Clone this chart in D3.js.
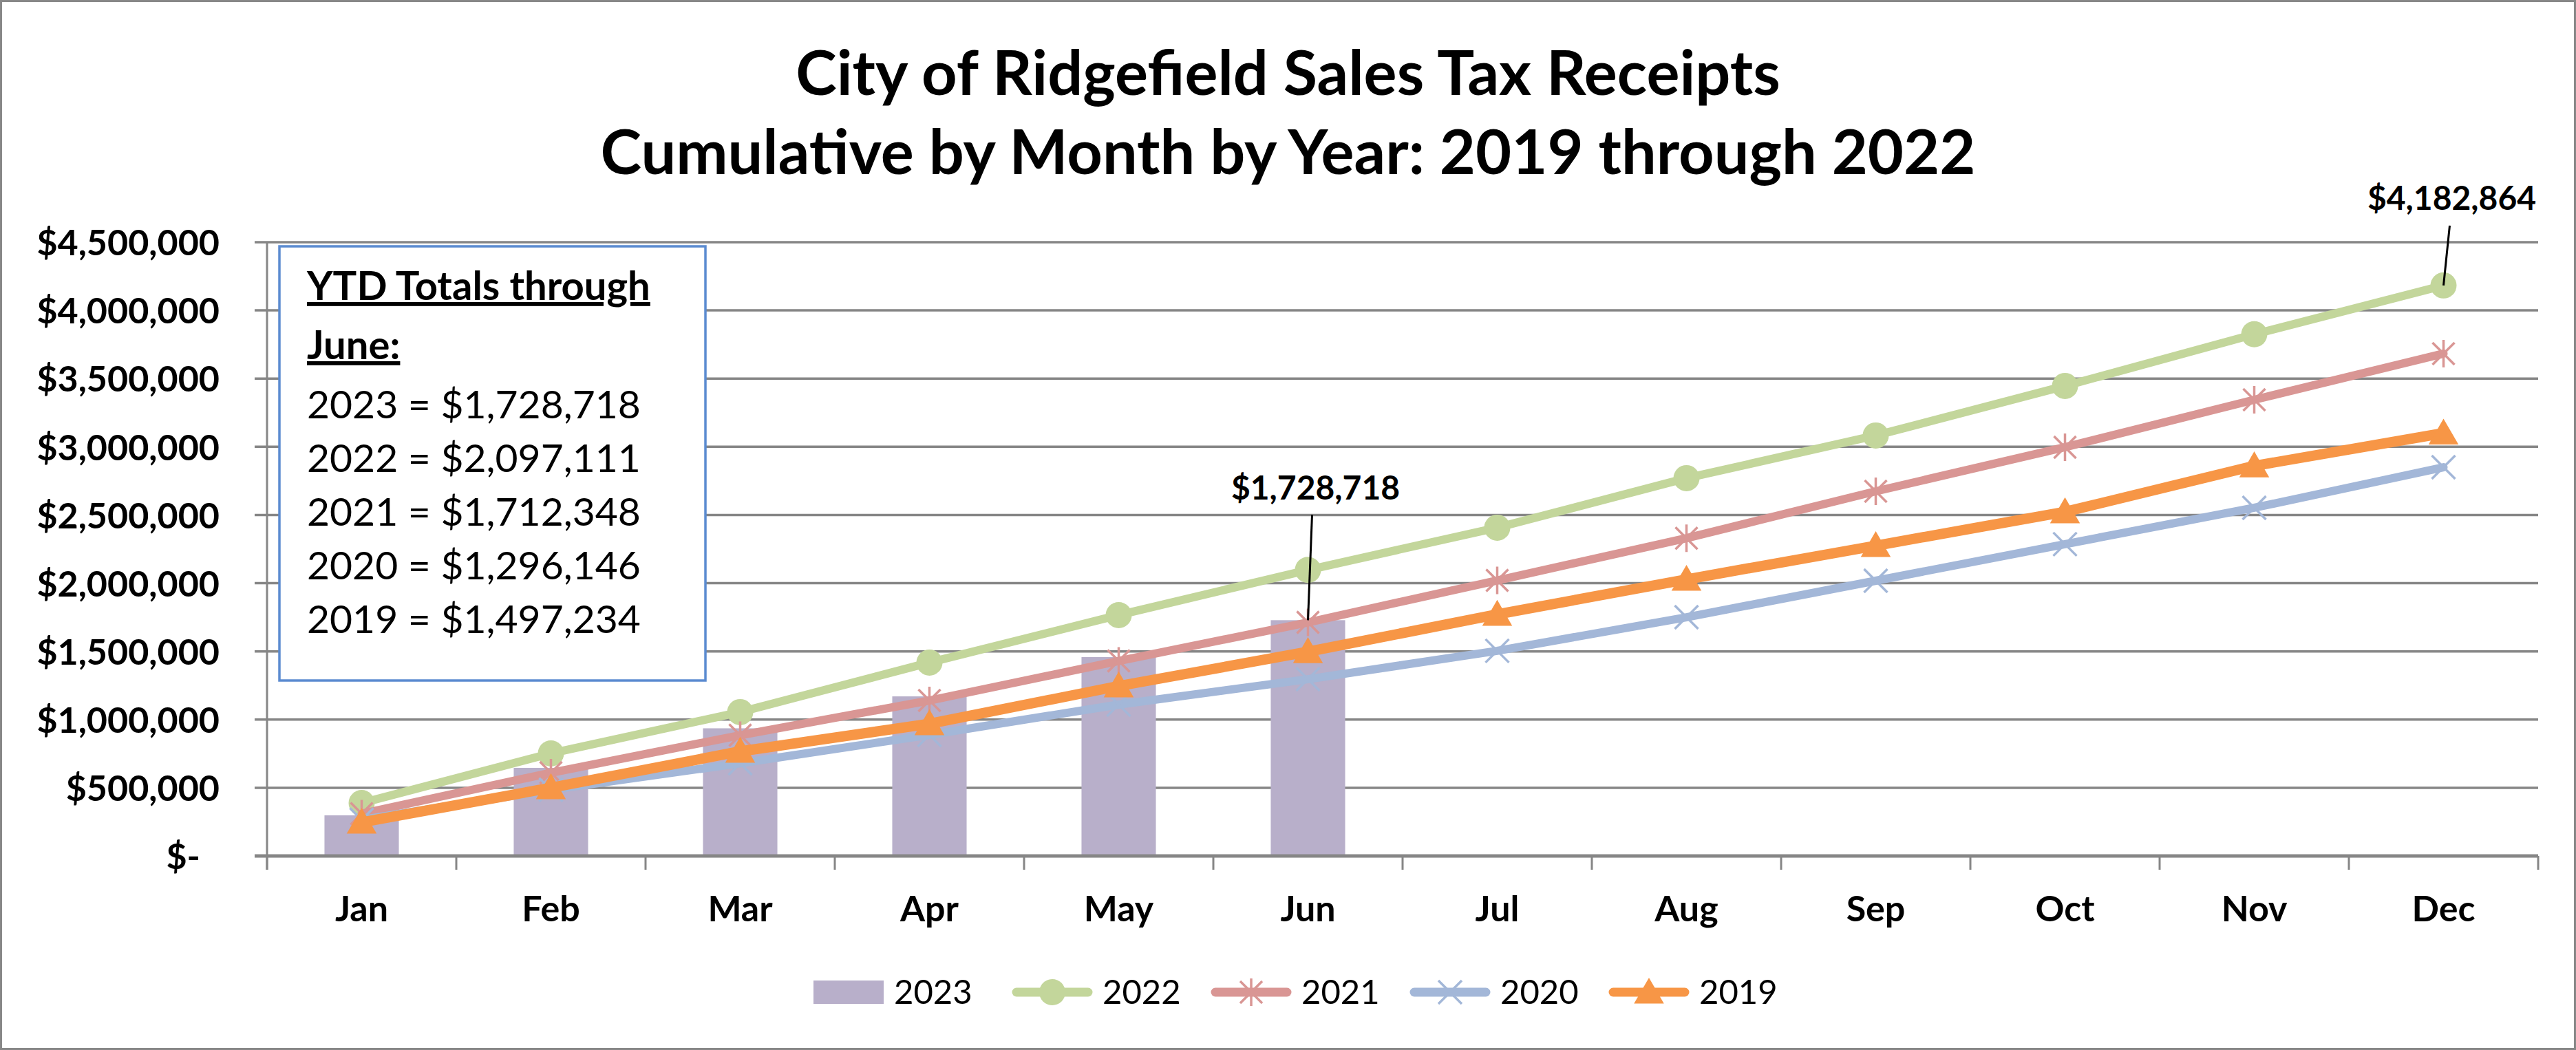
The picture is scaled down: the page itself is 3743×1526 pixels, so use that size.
<!DOCTYPE html>
<html>
<head>
<meta charset="utf-8">
<script src="https://cdn.jsdelivr.net/npm/d3@7"></script>
<style>
  body { margin: 0; background: #fff; }
  text { font-family: Lato, "Open Sans", sans-serif; fill: #000; }
</style>
</head>
<body>
<svg id="chart"></svg>
<script>
// cumulative receipts by month
const months = ["Jan", "Feb", "Mar", "Apr", "May", "Jun", "Jul", "Aug", "Sep", "Oct", "Nov", "Dec"];
const sales2023 = [298000, 646000, 936000, 1170000, 1458000, 1728718];
const sales2022 = [388000, 752000, 1055000, 1418000, 1766000, 2097111, 2407000, 2770000, 3083000, 3446000, 3825000, 4182864];
const sales2021 = [310000, 610000, 885000, 1140000, 1430000, 1712348, 2020000, 2330000, 2674000, 2997000, 3345000, 3683000];
const sales2020 = [265000, 485000, 680000, 888000, 1110000, 1296146, 1504000, 1750000, 2018000, 2286000, 2553000, 2850000];
const sales2019 = [247000, 500000, 767000, 969000, 1246000, 1497234, 1771000, 2028000, 2275000, 2523000, 2860000, 3100000];
const yTickValues = [0, 500000, 1000000, 1500000, 2000000, 2500000, 3000000, 3500000, 4000000, 4500000];
const titleLines = ["City of Ridgefield Sales Tax Receipts", "Cumulative by Month by Year: 2019 through 2022"];
const ytdHeading = ["YTD Totals through", "June:"];

// line series, in drawing order (2019 ends up on top)
const lineSeries = [
  {name: "2022", values: sales2022, color: "#C3D69B", width: 12, marker: "circle"},
  {name: "2021", values: sales2021, color: "#D99694", width: 12, marker: "star"},
  {name: "2020", values: sales2020, color: "#A3B7D8", width: 12, marker: "x"},
  {name: "2019", values: sales2019, color: "#F79646", width: 15, marker: "triangle"}
];
const barColor = "#B8AFCA";
const gridColor = "#868686";

const W = 3743, H = 1526;
const margin = {top: 352, right: 55, bottom: 282, left: 388};
const w = W - margin.left - margin.right,
      h = H - margin.top - margin.bottom;

const svg = d3.select("#chart").attr("width", W).attr("height", H);

// outer frame
svg.append("rect")
  .attr("x", 1.5).attr("y", 1.5)
  .attr("width", W - 3).attr("height", H - 3)
  .attr("fill", "#fff").attr("stroke", "#888").attr("stroke-width", 3);

// title
svg.selectAll(".title").data(titleLines).join("text")
  .attr("class", "title")
  .attr("x", W / 2)
  .attr("y", (d, i) => 138 + i * 115)
  .attr("text-anchor", "middle")
  .style("font-size", "90px").style("font-weight", "bold")
  .text(d => d);

const g = svg.append("g").attr("transform", `translate(${margin.left},${margin.top})`);

const x = d3.scaleBand().domain(months).range([0, w]).paddingInner(0.607).paddingOuter(0.3035);
const cx = m => x(m) + x.bandwidth() / 2;
const y = d3.scaleLinear().domain([0, 4500000]).range([h, 0]);

// gridlines (with the outward tick folded in)
g.selectAll(".grid").data(yTickValues.filter(v => v > 0)).join("line")
  .attr("class", "grid")
  .attr("x1", -18).attr("x2", w)
  .attr("y1", d => y(d)).attr("y2", d => y(d))
  .attr("stroke", gridColor).attr("stroke-width", 3.5);

// y labels
const fmt = d3.format("$,.0f");
const yAxis = g.append("g")
  .call(d3.axisLeft(y).tickValues(yTickValues).tickSize(0).tickPadding(69)
    .tickFormat(d => d === 0 ? "$-" : fmt(d)));
yAxis.select(".domain").remove();
yAxis.selectAll("text")
  .attr("dy", "0.36em")
  .attr("dx", d => d === 0 ? -28 : 0)
  .style("font-family", "Lato, sans-serif")
  .style("font-size", "52px").style("font-weight", "bold").attr("fill", "#000");

// bars for 2023
g.selectAll(".bar").data(sales2023).join("rect")
  .attr("class", "bar")
  .attr("x", (d, i) => x(months[i]))
  .attr("y", d => y(d))
  .attr("width", x.bandwidth())
  .attr("height", d => h - y(d))
  .attr("fill", barColor);

// axis lines and category ticks
g.append("line").attr("x1", 0).attr("x2", 0).attr("y1", y(4500000)).attr("y2", h + 20)
  .attr("stroke", gridColor).attr("stroke-width", 3);
g.selectAll(".xtick").data(d3.range(months.length + 1)).join("line")
  .attr("class", "xtick")
  .attr("x1", i => i * x.step()).attr("x2", i => i * x.step())
  .attr("y1", h).attr("y2", h + 20)
  .attr("stroke", gridColor).attr("stroke-width", 3);
g.append("line").attr("x1", -18).attr("x2", w).attr("y1", h).attr("y2", h)
  .attr("stroke", gridColor).attr("stroke-width", 5);

const xAxis = g.append("g").attr("transform", `translate(0,${h})`)
  .call(d3.axisBottom(x).tickSize(0).tickPadding(58));
xAxis.select(".domain").remove();
xAxis.selectAll("text")
  .attr("dy", "0.72em")
  .style("font-family", "Lato, sans-serif")
  .style("font-size", "52px").style("font-weight", "bold").attr("fill", "#000");

// marker shapes
const markerPath = {
  star: "M0,-20V20M-16,-16L16,16M-16,16L16,-16",
  x: "M-17,-17L17,17M-17,17L17,-17"
};
const triangle = d3.symbol(d3.symbolTriangle, 820)();

function drawMarker(sel, s) {
  if (s.marker === "circle") {
    sel.append("circle").attr("r", 19).attr("fill", s.color);
  } else if (s.marker === "triangle") {
    sel.append("path").attr("d", triangle).attr("transform", "translate(0,4)").attr("fill", s.color);
  } else {
    sel.append("path").attr("d", markerPath[s.marker]).attr("fill", "none")
      .attr("stroke", s.color).attr("stroke-width", 3.5);
  }
}

const line = d3.line().x((d, i) => cx(months[i])).y(d => y(d));

lineSeries.forEach(s => {
  const sg = g.append("g");
  sg.append("path").datum(s.values)
    .attr("d", line)
    .attr("fill", "none").attr("stroke", s.color)
    .attr("stroke-width", s.width).attr("stroke-linejoin", "round").attr("stroke-linecap", "round");
  sg.selectAll(".mk").data(s.values).join("g")
    .attr("class", "mk")
    .attr("transform", (d, i) => `translate(${cx(months[i])},${y(d)})`)
    .each(function() { drawMarker(d3.select(this), s); });
});

// callouts
const callouts = [
  {month: "Jun", value: sales2023[5], tx: 11, ty: -175, lx: 6, ly: -153},
  {month: "Dec", value: sales2022[11], tx: 12, ty: -110, lx: 9, ly: -87}
];
callouts.forEach(c => {
  const px = cx(c.month), py = y(c.value);
  g.append("line").attr("x1", px + c.lx).attr("y1", py + c.ly).attr("x2", px).attr("y2", py)
    .attr("stroke", "#000").attr("stroke-width", 3);
  g.append("text").attr("x", px + c.tx).attr("y", py + c.ty)
    .attr("text-anchor", "middle")
    .style("font-size", "48px").style("font-weight", "bold")
    .text(fmt(c.value));
});

// YTD text box
const ytdRows = [
  ["2023", sales2023[5]], ["2022", sales2022[5]], ["2021", sales2021[5]],
  ["2020", sales2020[5]], ["2019", sales2019[5]]
];
svg.append("rect")
  .attr("x", 406).attr("y", 358).attr("width", 619).attr("height", 631)
  .attr("fill", "#fff").attr("stroke", "#5B8BD0").attr("stroke-width", 3.5);
svg.selectAll(".ytdHead").data(ytdHeading).join("text")
  .attr("class", "ytdHead")
  .attr("x", 446).attr("y", (d, i) => 436 + i * 86)
  .style("font-size", "58px").style("font-weight", "bold")
  .style("text-decoration", "underline")
  .text(d => d);
svg.selectAll(".ytdRow").data(ytdRows).join("text")
  .attr("class", "ytdRow")
  .attr("x", 446).attr("y", (d, i) => 608 + i * 78)
  .style("font-size", "57px")
  .text(d => `${d[0]} = ${fmt(d[1])}`);

// legend
const legendItems = [{name: "2023", bar: true, color: barColor}].concat(lineSeries);
const legend = svg.append("g").attr("transform", "translate(1182,1442)");
const legendStep = 289;
legendItems.forEach((s, i) => {
  const item = legend.append("g").attr("transform", `translate(${i * legendStep},0)`);
  let sw;
  if (s.bar) {
    sw = 102;
    item.append("rect").attr("x", 0).attr("y", -17).attr("width", sw).attr("height", 34).attr("fill", s.color);
  } else {
    sw = 116;
    item.append("line").attr("x1", 6).attr("x2", sw - 6).attr("y1", 0).attr("y2", 0)
      .attr("stroke", s.color).attr("stroke-width", 13).attr("stroke-linecap", "round");
    drawMarker(item.append("g").attr("transform", `translate(${sw / 2},0)`), s);
  }
  item.append("text").attr("x", sw + 15).attr("y", 17)
    .style("font-size", "49px").text(s.name);
});
</script>
</body>
</html>
